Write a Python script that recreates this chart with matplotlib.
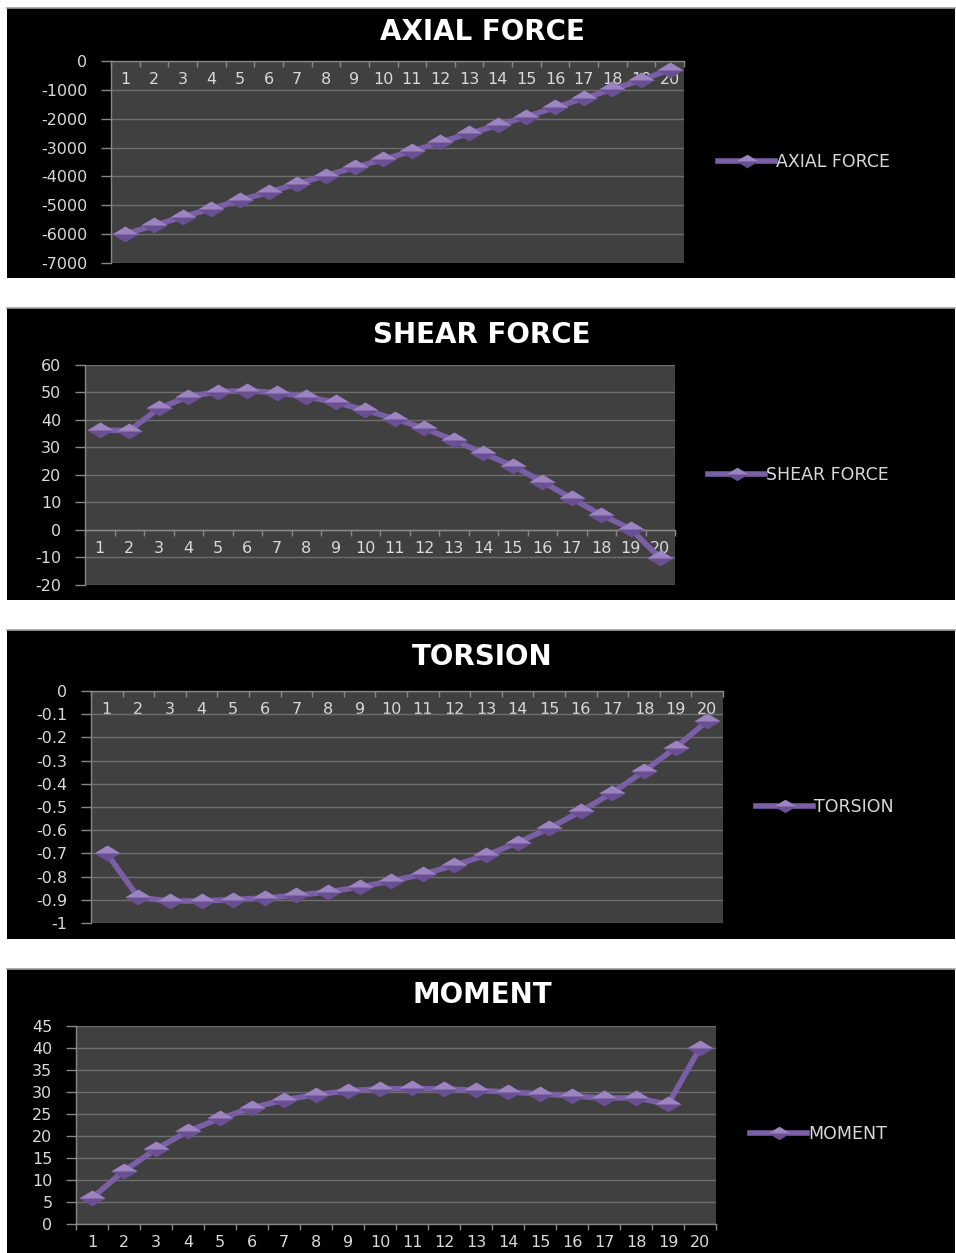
import numpy as np
import matplotlib
matplotlib.use("Agg")
import matplotlib.pyplot as plt
from matplotlib.patches import Rectangle
from matplotlib.lines import Line2D
from matplotlib.ticker import FuncFormatter, MultipleLocator, FixedLocator

plt.rcParams['axes.unicode_minus'] = False
plt.rcParams['font.family'] = ['DejaVu Sans']

# --- data ---
categories = [str(i) for i in range(1, 21)]

axial = [-6000, -5700, -5400, -5120, -4820, -4550, -4250, -3970, -3690, -3410,
         -3130, -2810, -2510, -2230, -1930, -1610, -1290, -980, -660, -300]
shear = [36.4, 36.1, 44.2, 48.5, 50.3, 50.7, 49.9, 48.5, 46.4, 43.6,
         40.4, 37.0, 32.7, 27.9, 23.3, 17.6, 11.5, 5.5, 0.4, -10.3]
torsion = [-0.70, -0.89, -0.905, -0.905, -0.899, -0.892, -0.881, -0.866, -0.845, -0.819,
           -0.790, -0.751, -0.708, -0.654, -0.591, -0.519, -0.438, -0.346, -0.244, -0.129]
moment = [5.9, 12.1, 17.0, 21.1, 24.0, 26.4, 28.2, 29.4, 30.3, 30.7,
          30.8, 30.7, 30.4, 30.0, 29.6, 29.1, 28.6, 28.7, 27.2, 40.0]

W, H = 956, 1253
fig = plt.figure(figsize=(W / 100, H / 100), dpi=100, facecolor='white')

def fx(x):
    return x / W

def fy(y):
    return 1 - y / H

# flattened diamond (the source picture is stretched sideways)
diamond = [(-1, 0), (0, 0.6), (1, 0), (0, -0.6), (-1, 0)]
upper = [(-1, 0), (0, 0.6), (1, 0), (-1, 0)]

LINE = '#7b5fa6'
DARK = '#6a4f93'
LIGHT = '#9c84c0'
TXT = '#d9d9d9'

panels = [
    # title, values, box(y0,y1), axes px (x0,y0,x1,y1), ylim, step, title y, legend (x,y)
    ("AXIAL FORCE", axial, (8, 278), (111, 61, 684, 263), (-7000, 0), 1000, 32, (718, 162)),
    ("SHEAR FORCE", shear, (308, 600), (85, 365, 675, 585), (-20, 60), 10, 335, (708, 475)),
    ("TORSION", torsion, (630, 939), (91, 691, 723, 923), (-1, 0), 0.1, 657, (756, 807)),
    ("MOMENT", moment, (969, 1253), (76, 1026, 716, 1224), (0, 45), 5, 995, (750, 1134)),
]

x = np.arange(1, len(categories) + 1)

for title, vals, (by0, by1), (ax0, ay0, ax1, ay1), ylim, step, ty, (lx, ly) in panels:
    # black chart background with thin grey top edge
    fig.patches.append(Rectangle((fx(7), fy(by1)), fx(955) - fx(7), fy(by0) - fy(by1),
                                 transform=fig.transFigure, facecolor='black',
                                 edgecolor='none', zorder=-5))
    fig.lines.append(Line2D([fx(7), fx(955)], [fy(by0), fy(by0)],
                            transform=fig.transFigure, color='#a0a0a0', lw=1.2, zorder=-4))

    ax = fig.add_axes([fx(ax0), fy(ay1), fx(ax1) - fx(ax0), fy(ay0) - fy(ay1)])
    ax.set_facecolor('#404040')
    ax.plot(x, vals, color=LINE, lw=4, zorder=3, solid_capstyle='round', clip_on=False)
    ax.plot(x, vals, ls='none', marker=diamond, markersize=19, color=DARK,
            markeredgewidth=0, zorder=4, clip_on=False)
    ax.plot(x, vals, ls='none', marker=upper, markersize=19, color=LIGHT,
            markeredgewidth=0, zorder=5, clip_on=False)

    ax.set_xlim(0.5, len(categories) + 0.5)
    ax.set_ylim(*ylim)

    # y axis
    ax.yaxis.set_major_locator(MultipleLocator(step))
    ax.yaxis.set_major_formatter(FuncFormatter(lambda v, _: f"{round(v, 1) + 0.0:g}"))
    ax.grid(axis='y', color='#6e6e6e', lw=1)
    ax.set_axisbelow(True)
    ax.tick_params(axis='y', colors='#888888', labelcolor=TXT, length=7, width=1,
                   pad=10, labelsize=11.5)

    # category x axis crossing at zero
    ax.spines['bottom'].set_position(('data', 0))
    ax.set_xticks(x)
    ax.set_xticklabels(categories)
    ax.xaxis.set_minor_locator(FixedLocator(np.arange(0.5, len(categories) + 1, 1)))
    ax.tick_params(axis='x', which='major', length=0, pad=8, labelcolor=TXT, labelsize=11.5)
    ax.tick_params(axis='x', which='minor', length=4, width=1, color='#888888')

    for s in ['top', 'right']:
        ax.spines[s].set_visible(False)
    for s in ['left', 'bottom']:
        ax.spines[s].set_color('#888888')
        ax.spines[s].set_linewidth(1)

    fig.text(fx(482), fy(ty), title, ha='center', va='center', color='white',
             fontsize=20, fontweight='bold')

    h_line = Line2D([], [], color=LINE, lw=4)
    h_dark = Line2D([], [], ls='none', marker=diamond, markersize=16, color=DARK, markeredgewidth=0)
    h_light = Line2D([], [], ls='none', marker=upper, markersize=16, color=LIGHT, markeredgewidth=0)
    fig.legend([(h_line, h_dark, h_light)], [title], loc='center left',
               bbox_to_anchor=(fx(lx), fy(ly)), bbox_transform=fig.transFigure,
               frameon=False, fontsize=12.5, labelcolor=TXT, handlelength=3.3,
               handletextpad=0.05, borderpad=0, borderaxespad=0)

fig.savefig('out.png', dpi=100, facecolor='white')
